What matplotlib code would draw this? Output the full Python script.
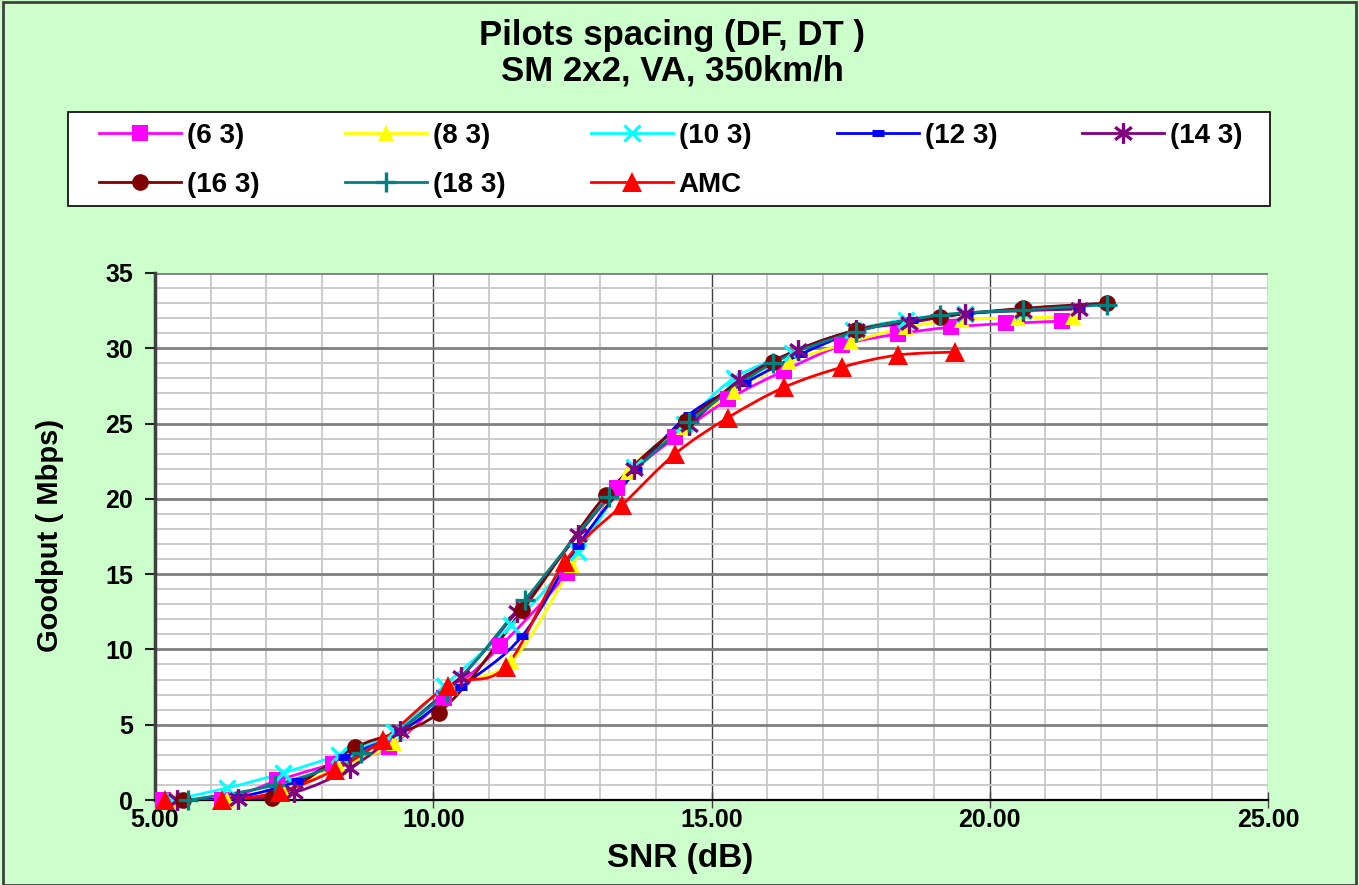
import numpy as np
import matplotlib
matplotlib.use("Agg")
import matplotlib.pyplot as plt
from matplotlib.path import Path
from matplotlib.patches import PathPatch, Rectangle
from matplotlib.lines import Line2D
from matplotlib.ticker import MultipleLocator, FormatStrFormatter

# ---- data -----------------------------------------------------------------
snr_6_3 = [5.14, 6.2, 7.2, 8.2, 9.2, 10.2, 11.2, 12.4, 13.3, 14.35, 15.3, 16.3, 17.35, 18.35, 19.3, 20.3, 21.3]
gp_6_3 = [0, 0, 1.3, 2.4, 3.5, 6.8, 10.2, 15.1, 20.7, 24.1, 26.6, 28.5, 30.2, 30.95, 31.4, 31.65, 31.8]

snr_8_3 = [5.3, 6.3, 7.3, 8.3, 9.3, 10.3, 11.4, 12.5, 13.5, 14.5, 15.4, 16.4, 17.5, 18.5, 19.5, 20.5, 21.5]
gp_8_3 = [0, 0, 0.6, 2.2, 3.8, 7.5, 9.2, 15.6, 21.8, 24.8, 27.1, 29.1, 30.4, 31.4, 31.9, 32.0, 32.1]

snr_10_3 = [5.3, 6.3, 7.3, 8.3, 9.3, 10.2, 11.4, 12.6, 13.6, 14.5, 15.4, 16.45, 17.55, 18.5, 19.55, 20.6]
gp_10_3 = [0, 0.8, 1.8, 3.0, 4.5, 7.6, 11.6, 16.5, 22.1, 25.0, 28.0, 29.7, 31.2, 31.9, 32.3, 32.5]

snr_12_3 = [5.5, 6.5, 7.55, 8.4, 9.4, 10.5, 11.6, 12.6, 13.65, 14.6, 15.6, 16.6, 17.6, 18.6, 19.6, 20.6, 21.6]
gp_12_3 = [0, 0.2, 1.25, 2.85, 4.5, 7.5, 10.9, 16.9, 21.9, 25.6, 27.7, 29.6, 31.1, 31.9, 32.3, 32.6, 32.7]

snr_14_3 = [5.4, 6.5, 7.5, 8.5, 9.4, 10.5, 11.5, 12.6, 13.6, 14.6, 15.5, 16.55, 17.6, 18.55, 19.55, 20.6, 21.6]
gp_14_3 = [0, 0.05, 0.5, 2.1, 4.6, 8.2, 12.5, 17.6, 22.0, 24.9, 27.9, 29.9, 31.2, 31.7, 32.3, 32.5, 32.6]

snr_16_3 = [5.5, 7.1, 8.6, 10.1, 11.6, 13.1, 14.55, 16.1, 17.6, 19.1, 20.6, 22.1]
gp_16_3 = [0, 0.15, 3.5, 5.8, 12.6, 20.25, 25.2, 29.1, 31.2, 32.1, 32.65, 33.0]

snr_18_3 = [5.6, 7.15, 8.7, 10.25, 11.65, 13.15, 14.6, 16.1, 17.6, 19.1, 20.6, 22.1]
gp_18_3 = [0, 1.0, 3.1, 7.2, 13.3, 20.1, 25.1, 29.0, 31.1, 32.2, 32.55, 32.9]

snr_amc = [5.18, 6.2, 7.25, 8.23, 9.1, 10.27, 11.3, 12.36, 13.4, 14.35, 15.3, 16.3, 17.35, 18.35, 19.38]
gp_amc = [0, 0, 0.55, 2.0, 4.0, 7.6, 8.85, 15.8, 19.6, 23.0, 25.4, 27.4, 28.75, 29.55, 29.75]

labels = ["(6 3)", "(8 3)", "(10 3)", "(12 3)", "(14 3)", "(16 3)", "(18 3)", "AMC"]

x_ticks = [5, 10, 15, 20, 25]
y_ticks = [0, 5, 10, 15, 20, 25, 30, 35]

# ---- styling --------------------------------------------------------------
BG = "#CCFFCC"
FONT = ["Liberation Sans", "DejaVu Sans"]
W, H = 1359, 885

# Excel-style asterisk: vertical bar plus an X
asterisk = Path(
    [(0, -1), (0, 1), (-0.8, -0.6), (0.8, 0.6), (-0.8, 0.6), (0.8, -0.6)],
    [Path.MOVETO, Path.LINETO, Path.MOVETO, Path.LINETO, Path.MOVETO, Path.LINETO],
)

styles = [
    dict(color="#FF00FF", marker="s", ms=11, mew=0),
    dict(color="#FFFF00", marker="^", ms=12, mew=0),
    dict(color="#00FFFF", marker="x", ms=12, mew=2.4),
    dict(color="#0000FF", marker="_", ms=9, mew=5),
    dict(color="#800080", marker=asterisk, ms=15, mew=2.4),
    dict(color="#800000", marker="o", ms=12, mew=0),
    dict(color="#008080", marker="+", ms=15, mew=2.4),
    dict(color="#FF0000", marker="^", ms=14, mew=0),
]

series = [
    (snr_6_3, gp_6_3), (snr_8_3, gp_8_3), (snr_10_3, gp_10_3), (snr_12_3, gp_12_3),
    (snr_14_3, gp_14_3), (snr_16_3, gp_16_3), (snr_18_3, gp_18_3), (snr_amc, gp_amc),
]


def smooth_path(x, y):
    """Catmull-Rom curve through the points, expressed as cubic Bezier segments."""
    pts = np.column_stack([x, y]).astype(float)
    verts = [pts[0]]
    codes = [Path.MOVETO]
    n = len(pts)
    for i in range(n - 1):
        p0 = pts[i - 1] if i > 0 else pts[i]
        p1 = pts[i]
        p2 = pts[i + 1]
        p3 = pts[i + 2] if i + 2 < n else pts[i + 1]
        verts += [p1 + (p2 - p0) / 6.0, p2 - (p3 - p1) / 6.0, p2]
        codes += [Path.CURVE4] * 3
    return Path(verts, codes)


fig = plt.figure(figsize=(W / 100, H / 100), dpi=100, facecolor=BG)
ax = fig.add_axes([155 / W, 1 - 800 / H, (1268 - 155) / W, (800 - 273) / H])
ax.set_facecolor("white")

ax.set_xlim(5, 25)
ax.set_ylim(0, 35)
ax.xaxis.set_minor_locator(MultipleLocator(1))
ax.yaxis.set_minor_locator(MultipleLocator(1))
ax.set_xticks(x_ticks)
ax.set_yticks(y_ticks)
ax.xaxis.set_major_formatter(FormatStrFormatter("%.2f"))

# grid
ax.grid(which="minor", axis="both", color="#C8C8C8", lw=1.3, zorder=0)
ax.grid(which="major", axis="y", color="#808080", lw=2.0, zorder=0)
ax.grid(which="major", axis="x", color="#404040", lw=1.0, zorder=0)
ax.set_axisbelow(True)

for side in ("top", "right"):
    ax.spines[side].set_visible(False)
ax.spines["left"].set_color("#404040")
ax.spines["left"].set_linewidth(2.5)
ax.spines["bottom"].set_color("#000000")
ax.spines["bottom"].set_linewidth(1.6)

ax.tick_params(axis="both", which="minor", length=0)
ax.tick_params(axis="y", which="major", direction="out", length=7, width=1.5,
               color="#202020", pad=9, labelsize=18)
ax.tick_params(axis="x", which="major", direction="inout", length=12, width=1.0,
               color="#404040", pad=0, labelsize=18)
for lab in ax.get_xticklabels() + ax.get_yticklabels():
    lab.set_fontweight("bold")
    lab.set_family(FONT)

handles = []
for (xs, ys), st, lab in zip(series, styles, labels):
    patch = PathPatch(smooth_path(xs, ys), fill=False, edgecolor=st["color"],
                      lw=2.0, zorder=3, capstyle="round", joinstyle="round")
    ax.add_patch(patch)
    ax.plot(xs, ys, ls="none", marker=st["marker"], ms=st["ms"],
            color=st["color"], mec=st["color"], mfc=st["color"],
            mew=st["mew"], zorder=4, clip_on=False)
    handles.append(Line2D([], [], color=st["color"], lw=2.0, marker=st["marker"],
                          ms=st["ms"], mec=st["color"], mfc=st["color"], mew=st["mew"]))

# titles and axis labels
fig.text(672 / W, 1 - 36 / H, "Pilots spacing (DF, DT )", ha="center", va="center",
         fontsize=25, fontweight="bold", family=FONT)
fig.text(672 / W, 1 - 71 / H, "SM 2x2, VA, 350km/h", ha="center", va="center",
         fontsize=25, fontweight="bold", family=FONT)
fig.text(680 / W, 1 - 858 / H, "SNR (dB)", ha="center", va="center",
         fontsize=24, fontweight="bold", family=FONT)
fig.text(50 / W, 1 - 535 / H, "Goodput ( Mbps)", ha="center", va="center",
         rotation=90, fontsize=21, fontweight="bold", family=FONT)

# legend: entries fill row by row (matplotlib fills columns first)
order = [0, 5, 1, 6, 2, 7, 3, 4]
leg = fig.legend([handles[i] for i in order], [labels[i] for i in order],
                 loc="upper left", ncol=5, mode="expand",
                 bbox_to_anchor=(99 / W, 1 - 204 / H, (1243 - 99) / W, (204 - 123) / H),
                 frameon=False, borderpad=0, borderaxespad=0,
                 handlelength=2.95, handletextpad=0.22, labelspacing=0.82,
                 prop=dict(family=FONT, weight="bold", size=20))

# legend box and outer frame of the chart area
fig.patches.append(Rectangle((68 / W, 1 - 206 / H), (1270 - 68) / W, (206 - 112) / H,
                             transform=fig.transFigure, facecolor="white",
                             edgecolor="black", lw=1.2, zorder=0.5))
fig.patches.append(Rectangle((0.002, 0.0), 0.996, 0.998, transform=fig.transFigure,
                             fill=False, edgecolor="#404040", lw=2))

fig.savefig("out.png", dpi=100, facecolor=BG)
